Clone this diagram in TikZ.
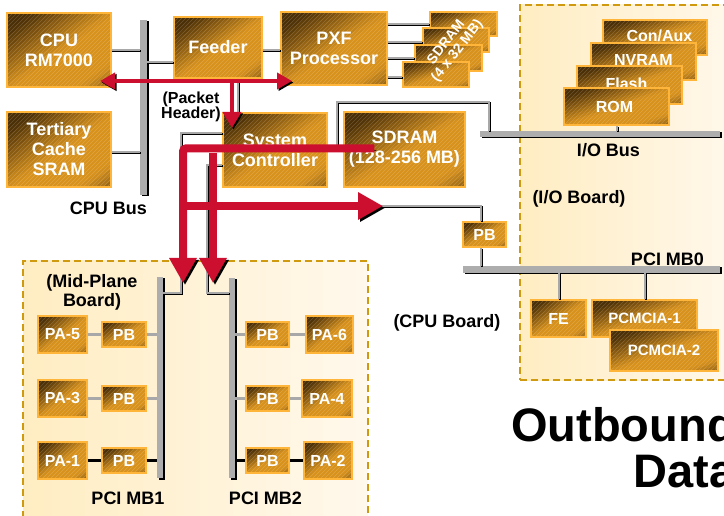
\documentclass[tikz,border=0pt]{standalone}
\usepackage{fontspec}
\setmainfont{Liberation Sans}
\usetikzlibrary{arrows.meta,calc}
\definecolor{bdark}{HTML}{4A2E06}
\definecolor{borange}{HTML}{D8921C}
\definecolor{bdark2}{HTML}{8A5C12}
\definecolor{bedge}{HTML}{FFB53A}
\definecolor{cgray}{HTML}{A8A8A8}
\definecolor{busgray}{HTML}{ADADAD}
\definecolor{redA}{HTML}{CC0F2E}
\definecolor{dashc}{HTML}{D09A10}
\definecolor{creamA}{HTML}{FFEDC2}
\definecolor{creamB}{HTML}{FFF8EC}
\newcommand\bx[7]{%
 \begin{scope}
 \clip (#2,#3) rectangle (#4,#5);
 \foreach \s in {0,0.08,...,2.0}{%
   \pgfmathsetmacro\pa{min(100,max(0,(\s-0.2)/0.8*100))}%
   \pgfmathsetmacro\pb{min(100,max(0,(\s-1.65)/0.35*100))}%
   \fill[color=bdark2!\pb!borange!\pa!bdark] ({#2+(\s+2)*(#4-#2)},{#3-2*(#5-#3)}) -- ({#2-2*(#4-#2)},{#3+(\s+2)*(#5-#3)}) -- ({#2+5*(#4-#2)},{#3+5*(#5-#3)}) -- cycle;
 }
 \pgfmathsetmacro\hh{#5-#3}
 \foreach \k in {-80,-76,...,120}{%
   \draw[hatch] ({#2+\k},#5) -- ++(\hh,-\hh);
 }
 \end{scope}
 \node[box,#6,minimum width={#4-#2}, minimum height={#5-#3}] (#1) at ({(#2+#4)/2},{(#3+#5)/2}) {#7};}
\begin{document}
\begin{tikzpicture}[x=1pt,y=-1pt,
  hatch/.style={draw=white, draw opacity=0.18, line width=0.7pt},
  box/.style={draw=bedge, line width=1.2pt,
    text=white, font=\bfseries\fontsize{18}{20}\selectfont, align=center, inner sep=0pt},
  mid/.style={font=\bfseries\fontsize{16}{17}\selectfont},
  small/.style={font=\bfseries\fontsize{16}{17}\selectfont},
  pc/.style={font=\bfseries\fontsize{15}{16}\selectfont},
  lbl/.style={font=\bfseries\fontsize{18}{19}\selectfont, text=black, align=center, inner sep=0pt},
  bus/.style={fill=busgray, draw=none, inner sep=0pt, preaction={fill=black, transform canvas={shift={(1.5pt,-1.5pt)}}}},
  conn/.style={draw=cgray, line width=2.5pt, preaction={draw=black, line width=2.5pt, transform canvas={shift={(0.8pt,-1pt)}}}},
  connl/.style={draw=cgray, line width=2.5pt},
  connd/.style={draw=black, line width=2.5pt},
  region/.style={draw=dashc, line width=2.5pt, dash pattern=on 7pt off 4pt, left color=creamA, right color=creamB, inner sep=0pt},
  redthick/.style={draw=redA, line width=8pt, -{Triangle[width=26pt,length=25pt]}, preaction={draw=black, transform canvas={shift={(2pt,-2pt)}}}},
  redthin/.style={draw=redA, line width=4.5pt, preaction={draw=black, transform canvas={shift={(1.5pt,-1.5pt)}}}}
]
\useasboundingbox (0,0) rectangle (724,516);
\clip (0,0) rectangle (724,516);
\fill[white] (0,0) rectangle (724,516);

% regions
\node[region, minimum width=220pt, minimum height=375pt] (ioboard) at (630,192.5) {};
\node[region, minimum width=345pt, minimum height=270pt] (midboard) at (195.5,396) {};

% buses
\node[bus, minimum width=7pt, minimum height=175pt] (cpubus) at (143.5,107.5) {};
\node[bus, minimum width=240pt, minimum height=6pt] (iobus) at (600,134) {};
\node[bus, minimum width=257pt, minimum height=7pt] (mb0) at (591.5,269.5) {};
\node[bus, minimum width=6pt, minimum height=201pt] (mb1) at (160,377.5) {};
\node[bus, minimum width=6pt, minimum height=200pt] (mb2) at (232,378) {};

% boxes
\bx{cpu}{7}{13}{111}{87}{}{CPU\\RM7000}
\bx{cache}{7}{112}{111}{187}{}{Tertiary\\Cache\\SRAM}
\bx{feeder}{174}{17}{262}{78}{}{Feeder}
\bx{pxf}{281}{12}{387}{85}{}{PXF\\Processor}
\bx{sd1}{430}{12}{497}{36}{}{}
\bx{sd2}{423}{28}{489}{52}{}{}
\bx{sd3}{415}{45}{482}{71}{}{}
\bx{sd4}{403}{62}{469}{87}{}{}
\bx{sysc}{223}{113}{327}{187}{}{System\\Controller}
\bx{sdram}{344}{112}{465}{187}{}{SDRAM\\(128-256 MB)}
\bx{conaux}{603}{20}{707}{55}{mid}{\hspace*{9pt}\raisebox{3.5pt}{Con/Aux}}
\bx{nvram}{591}{43}{696}{80}{mid}{\raisebox{4pt}{NVRAM}}
\bx{flash}{577}{66}{682}{104}{mid}{\raisebox{3.5pt}{Flash}\hspace*{6pt}}
\bx{rom}{564}{88}{669}{125}{mid}{ROM\hspace*{4pt}}
\bx{pbio}{463}{222}{506}{247}{small}{PB}
\bx{fe}{531}{300}{586}{337}{small}{FE}
\bx{pcm1}{592}{300}{697}{337}{pc}{PCMCIA-1}
\bx{pcm2}{610}{330}{718}{371}{pc}{PCMCIA-2}
\bx{pa5}{38}{316}{87}{353}{small}{PA-5}
\bx{pb1}{102}{322}{146}{347}{small}{PB}
\bx{pb2}{246}{322}{289}{347}{small}{PB}
\bx{pa6}{306}{316}{353}{353}{small}{PA-6}
\bx{pa3}{38}{380}{87}{417}{small}{PA-3}
\bx{pb3}{102}{386}{146}{411}{small}{PB}
\bx{pb4}{246}{386}{289}{411}{small}{PB}
\bx{pa4}{302}{380}{352}{417}{small}{PA-4}
\bx{pa1}{38}{442}{87}{479}{small}{PA-1}
\bx{pb5}{102}{448}{146}{473}{small}{PB}
\bx{pb6}{246}{448}{289}{473}{small}{PB}
\bx{pa2}{304}{442}{352}{479}{small}{PA-2}

\node[font=\bfseries\fontsize{14}{14}\selectfont, text=white, rotate=52, align=center, inner sep=0pt] (sdtxt) at (452,47) {SDRAM\\(4 x 32 MB)};

% connectors
\draw[conn] (cpu.east |- 0,50) -- (cpubus.west |- 0,50);
\draw[conn] (cache.east |- 0,152) -- (cpubus.west |- 0,152);
\draw[conn] (cpubus.east |- 0,62) -- (feeder.west |- 0,62);
\draw[conn] (feeder.east |- 0,50) -- (pxf.west |- 0,50);
\draw[conn] (pxf.east |- 0,24) -- (sd1.west |- 0,24);
\draw[conn] (pxf.east |- 0,42) -- (sd2.west |- 0,42);
\draw[conn] (pxf.east |- 0,58) -- (sd3.west |- 0,58);
\draw[conn] (pxf.east |- 0,77) -- (sd4.west |- 0,77);
\draw[conn] (feeder.south -| 238,0) -- (sysc.north -| 238,0);
\draw[conn] (sysc.west |- 0,133) -| (181,293) -- (mb1.east |- 0,293);
\draw[conn] (sysc.west |- 0,165) -| (207,293) -- (mb2.west |- 0,293);
\draw[conn] (sysc.east |- 0,149) -| (337,102) -| (iobus.north -| 489,0);
\draw[conn] (rom.south -| 617,0) -- (iobus.north -| 617,0);
\draw[conn] (207,206) -| (pbio.north -| 481,0);
\draw[conn] (pbio.south -| 481,0) -- (mb0.north -| 481,0);
\draw[conn] (mb0.south -| 559,0) -- (fe.north -| 559,0);
\draw[conn] (mb0.south -| 645,0) -- (pcm1.north -| 645,0);
\draw[connl] (pa5.east) -- (pb1.west);
\draw[connl] (pb1.east) -- (mb1.west |- pb1.east);
\draw[connl] (mb2.east |- pb2.west) -- (pb2.west);
\draw[connl] (pb2.east) -- (pa6.west |- pb2.east);
\draw[connl] (pa3.east) -- (pb3.west);
\draw[connl] (pb3.east) -- (mb1.west |- pb3.east);
\draw[connl] (mb2.east |- pb4.west) -- (pb4.west);
\draw[connl] (pb4.east) -- (pa4.west |- pb4.east);
\draw[connd] (pa1.east) -- (pb5.west);
\draw[connd] (pb5.east) -- (mb1.west |- pb5.east);
\draw[connd] (mb2.east |- pb6.west) -- (pb6.west);
\draw[connd] (pb6.east) -- (pa2.west |- pb6.east);

% labels
\node[lbl] (cpubuslbl) at (108.5,208.5) {CPU Bus};
\node[lbl] (iobuslbl) at (608.5,150) {I/O Bus};
\node[lbl] (iobrd) at (579,199) {(I/O Board)};
\node[lbl] (cpubrd) at (447,323) {(CPU Board)};
\node[lbl] (mb0lbl) at (667.5,259) {PCI MB0};
\node[lbl] (midlbl) at (92,292) {(Mid-Plane\\Board)};
\node[lbl] (mb1lbl) at (128,498) {PCI MB1};
\node[lbl] (mb2lbl) at (265.5,498) {PCI MB2};
\node[lbl, font=\bfseries\fontsize{16}{15}\selectfont] (pkt) at (191,107) {(Packet\\Header)};

% red flows
\coordinate (rL) at (100,81);
\coordinate (rR) at (292,81);
\coordinate (dS) at (232,83);
\coordinate (dT) at (232,128);
\coordinate (aS) at ($(sdram.north west)+(31,37)$);
\coordinate (aT) at (183,283);
\coordinate (bS) at (213,153);
\coordinate (bT) at (213,283);
\coordinate (cS) at (187,206);
\coordinate (cT) at (383,206);
\draw[redthin, {Triangle[width=16pt,length=15pt]}-{Triangle[width=16pt,length=15pt]}] (rL) -- (rR);
\draw[redthin, -{Triangle[width=18pt,length=16pt]}] (dS) -- (dT);
\draw[redthick, rounded corners=3pt] (aS) -| (aT);
\draw[redthick] (bS) -- (bT);
\draw[redthick] (cS) -- (cT);

% title
\node[font=\bfseries\fontsize{47}{46}\selectfont, align=right, anchor=north east, inner sep=0pt] (title) at (736,407) {Outbound\\Data};
\end{tikzpicture}
\end{document}
